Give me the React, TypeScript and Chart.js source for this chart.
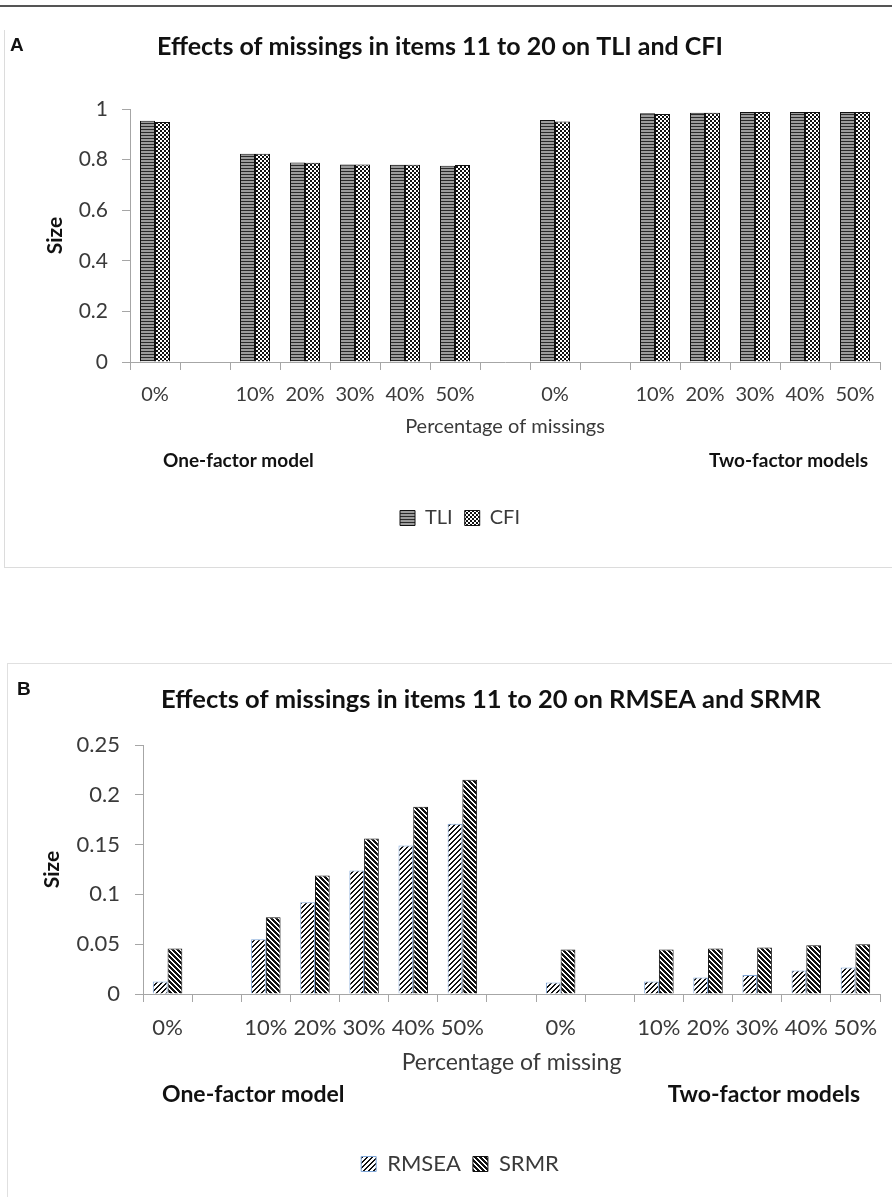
import React, { useEffect, useRef } from 'react';
import { Chart, registerables } from 'chart.js';

Chart.register(...registerables);

// ---------- data ----------
const categories = ['0%', '', '10%', '20%', '30%', '40%', '50%', '', '0%', '', '10%', '20%', '30%', '40%', '50%'];

const tliValues = [0.954, null, 0.823, 0.789, 0.781, 0.780, 0.776, null, 0.957, null, 0.983, 0.985, 0.988, 0.988, 0.988];
const cfiValues = [0.949, null, 0.823, 0.788, 0.781, 0.780, 0.779, null, 0.951, null, 0.980, 0.985, 0.988, 0.988, 0.988];

const rmseaValues = [0.0126, null, 0.055, 0.092, 0.124, 0.149, 0.171, null, 0.0116, null, 0.0126, 0.0166, 0.0192, 0.0235, 0.0265];
const srmrValues = [0.0457, null, 0.077, 0.119, 0.156, 0.188, 0.215, null, 0.0447, null, 0.0447, 0.0457, 0.0467, 0.049, 0.050];

const yTicksA = [0, 0.2, 0.4, 0.6, 0.8, 1];
const yTicksB = [0, 0.05, 0.1, 0.15, 0.2, 0.25];

const FONT = 'Lato, "Open Sans", sans-serif';
const AXIS_COLOR = '#a6a6a6';
const TEXT_COLOR = '#3a3a3a';

// ---------- patterns ----------
function makePattern(kind: string): CanvasPattern | string {
  const c = document.createElement('canvas');
  const ctx = c.getContext('2d');
  if (!ctx) return '#888';
  if (kind === 'hstripe') {
    c.width = 4; c.height = 3;
    ctx.fillStyle = '#9c9c9c'; ctx.fillRect(0, 0, 4, 3);
    ctx.fillStyle = '#2a2a2a'; ctx.fillRect(0, 0, 4, 1);
  } else if (kind === 'checker') {
    c.width = 4; c.height = 4;
    ctx.fillStyle = '#ffffff'; ctx.fillRect(0, 0, 4, 4);
    ctx.fillStyle = '#111111'; ctx.fillRect(0, 0, 2, 2); ctx.fillRect(2, 2, 2, 2);
  } else if (kind === 'diagUp') {
    c.width = 5; c.height = 5;
    ctx.fillStyle = '#ffffff'; ctx.fillRect(0, 0, 5, 5);
    ctx.fillStyle = '#111111';
    for (let x = 0; x < 5; x++) for (let y = 0; y < 5; y++) {
      const k = (x + y) % 5;
      if (k === 0 || k === 1) ctx.fillRect(x, y, 1, 1);
    }
  } else {
    c.width = 5; c.height = 5;
    ctx.fillStyle = '#ffffff'; ctx.fillRect(0, 0, 5, 5);
    ctx.fillStyle = '#111111';
    for (let x = 0; x < 5; x++) for (let y = 0; y < 5; y++) {
      const k = (x - y + 10) % 5;
      if (k === 0 || k === 1 || k === 2) ctx.fillRect(x, y, 1, 1);
    }
  }
  return ctx.createPattern(c, 'repeat') || '#888';
}

const fmt = (v: number) => String(Math.round(v * 1000) / 1000);

interface PanelSpec {
  letter: string; letterX: number; letterY: number;
  title: string; titleX: number; titleY: number; titleSize: number;
  groupSize: number; groupLeftX: number; groupRightX: number; groupOffset: number;
}

function panelTextPlugin(spec: PanelSpec) {
  return {
    id: 'panelText',
    afterDraw(chart: any) {
      const ctx = chart.ctx;
      ctx.save();
      ctx.fillStyle = '#111';
      ctx.textBaseline = 'middle';
      ctx.font = 'bold 19px "Liberation Sans", Arial, sans-serif';
      ctx.textAlign = 'left';
      ctx.fillText(spec.letter, spec.letterX, spec.letterY);
      ctx.font = `bold ${spec.titleSize}px ${FONT}`;
      ctx.textAlign = 'center';
      ctx.fillText(spec.title, spec.titleX, spec.titleY);
      const gy = chart.scales.x.bottom - spec.groupOffset;
      ctx.font = `bold ${spec.groupSize}px ${FONT}`;
      ctx.textAlign = 'left';
      ctx.fillText('One-factor model', spec.groupLeftX, gy);
      ctx.textAlign = 'right';
      ctx.fillText('Two-factor models', spec.groupRightX, gy);
      ctx.restore();
    },
  };
}

interface ChartSpec {
  datasets: any[];
  yMax: number; yTicks: number[];
  xTitle: string;
  tickSize: number; yTickSize: number; xTitleSize: number; legendSize: number;
  yWidth: number; yTickPad: number; yTitlePad: number;
  xHeight: number; xTitleBottom: number; xTickPad: number;
  padTop: number; padBottom: number; padLeft: number; padRight: number;
  panel: PanelSpec;
}

function buildConfig(s: ChartSpec): any {
  return {
    type: 'bar',
    data: { labels: categories, datasets: s.datasets },
    plugins: [panelTextPlugin(s.panel)],
    options: {
      responsive: false,
      animation: false,
      layout: { padding: { top: s.padTop, bottom: s.padBottom, left: s.padLeft, right: s.padRight } },
      datasets: { bar: { categoryPercentage: 0.6, barPercentage: 1.0 } },
      plugins: {
        title: { display: false },
        tooltip: { enabled: false },
        legend: {
          display: true,
          position: 'bottom',
          labels: {
            font: { family: FONT, size: s.legendSize },
            color: TEXT_COLOR,
            boxWidth: 15,
            boxHeight: 15,
            padding: 12,
          },
        },
      },
      scales: {
        x: {
          type: 'category',
          offset: true,
          grid: { display: true, drawOnChartArea: false, drawTicks: true, tickLength: 8, color: AXIS_COLOR, offset: true },
          border: { display: true, color: AXIS_COLOR, width: 1 },
          ticks: { font: { family: FONT, size: s.tickSize }, color: TEXT_COLOR, padding: s.xTickPad, autoSkip: false, maxRotation: 0 },
          title: {
            display: true, text: s.xTitle, color: TEXT_COLOR,
            font: { family: FONT, size: s.xTitleSize },
            padding: { top: 0, bottom: s.xTitleBottom },
          },
          afterFit: (sc: any) => { sc.height = s.xHeight; },
        },
        y: {
          min: 0, max: s.yMax,
          afterBuildTicks: (sc: any) => { sc.ticks = s.yTicks.map((v) => ({ value: v })); },
          grid: { display: true, drawOnChartArea: false, drawTicks: true, tickLength: 8, color: AXIS_COLOR },
          border: { display: true, color: AXIS_COLOR, width: 1 },
          ticks: {
            font: { family: FONT, size: s.yTickSize }, color: TEXT_COLOR, padding: s.yTickPad,
            callback: (v: any) => fmt(Number(v)),
          },
          title: {
            display: true, text: 'Size', color: '#111',
            font: { family: FONT, size: 21, weight: 'bold' },
            padding: { top: s.yTitlePad, bottom: 0 },
          },
          afterFit: (sc: any) => { sc.width = s.yWidth; },
        },
      },
    },
  };
}

function ChartCanvas({ spec, width, height, top }: { spec: () => ChartSpec; width: number; height: number; top: number }) {
  const ref = useRef<HTMLCanvasElement>(null);
  useEffect(() => {
    if (!ref.current) return;
    const chart = new Chart(ref.current, buildConfig(spec()));
    return () => chart.destroy();
  }, []);
  return (
    <canvas
      ref={ref}
      width={width}
      height={height}
      style={{ position: 'absolute', left: 0, top, width, height }}
    />
  );
}

const specA = (): ChartSpec => ({
  datasets: [
    { label: 'TLI', data: tliValues, backgroundColor: makePattern('hstripe'), borderColor: '#111', borderWidth: 1 },
    { label: 'CFI', data: cfiValues, backgroundColor: makePattern('checker'), borderColor: '#111', borderWidth: 1 },
  ],
  yMax: 1, yTicks: yTicksA,
  xTitle: 'Percentage of missings',
  tickSize: 20, yTickSize: 21, xTitleSize: 20, legendSize: 20,
  yWidth: 90, yTickPad: 14, yTitlePad: 3,
  xHeight: 134, xTitleBottom: 57, xTickPad: 13,
  padTop: 79, padBottom: 30, padLeft: 40, padRight: 12,
  panel: {
    letter: 'A', letterX: 10, letterY: 16,
    title: 'Effects of missings in items 11 to 20 on TLI and CFI', titleX: 440, titleY: 17, titleSize: 25,
    groupSize: 19, groupLeftX: 163, groupRightX: 868, groupOffset: 35,
  },
});

const specB = (): ChartSpec => ({
  datasets: [
    { label: 'RMSEA', data: rmseaValues, backgroundColor: makePattern('diagUp'), borderColor: '#7fa6d8', borderWidth: 1 },
    { label: 'SRMR', data: srmrValues, backgroundColor: makePattern('diagDown'), borderColor: '#111', borderWidth: 1 },
  ],
  yMax: 0.25, yTicks: yTicksB,
  xTitle: 'Percentage of missing',
  tickSize: 22, yTickSize: 22, xTitleSize: 23, legendSize: 22,
  yWidth: 103, yTickPad: 15, yTitlePad: 0,
  xHeight: 147, xTitleBottom: 65, xTickPad: 13,
  padTop: 82, padBottom: 12, padLeft: 40, padRight: 12,
  panel: {
    letter: 'B', letterX: 17, letterY: 27,
    title: 'Effects of missings in items 11 to 20 on RMSEA and SRMR', titleX: 491, titleY: 37, titleSize: 25.5,
    groupSize: 23, groupLeftX: 162, groupRightX: 860, groupOffset: 46,
  },
});

export default function App() {
  useEffect(() => {
    document.body.style.margin = '0';
  }, []);
  return (
    <div style={{ position: 'relative', width: 892, height: 1197, overflow: 'hidden', background: '#fff' }}>
      <div style={{ position: 'absolute', left: 0, top: 5, width: 892, height: 2, background: '#555' }} />
      <div style={{ position: 'absolute', left: 4, top: 30, width: 1000, height: 537, borderLeft: '1px solid #dcdcdc', borderBottom: '1px solid #dcdcdc' }} />
      <div style={{ position: 'absolute', left: 7, top: 663, width: 1000, height: 600, borderLeft: '1px solid #e0e0e0', borderTop: '1px solid #e0e0e0' }} />
      <ChartCanvas spec={specA} width={892} height={538} top={30} />
      <ChartCanvas spec={specB} width={892} height={534} top={663} />
    </div>
  );
}
